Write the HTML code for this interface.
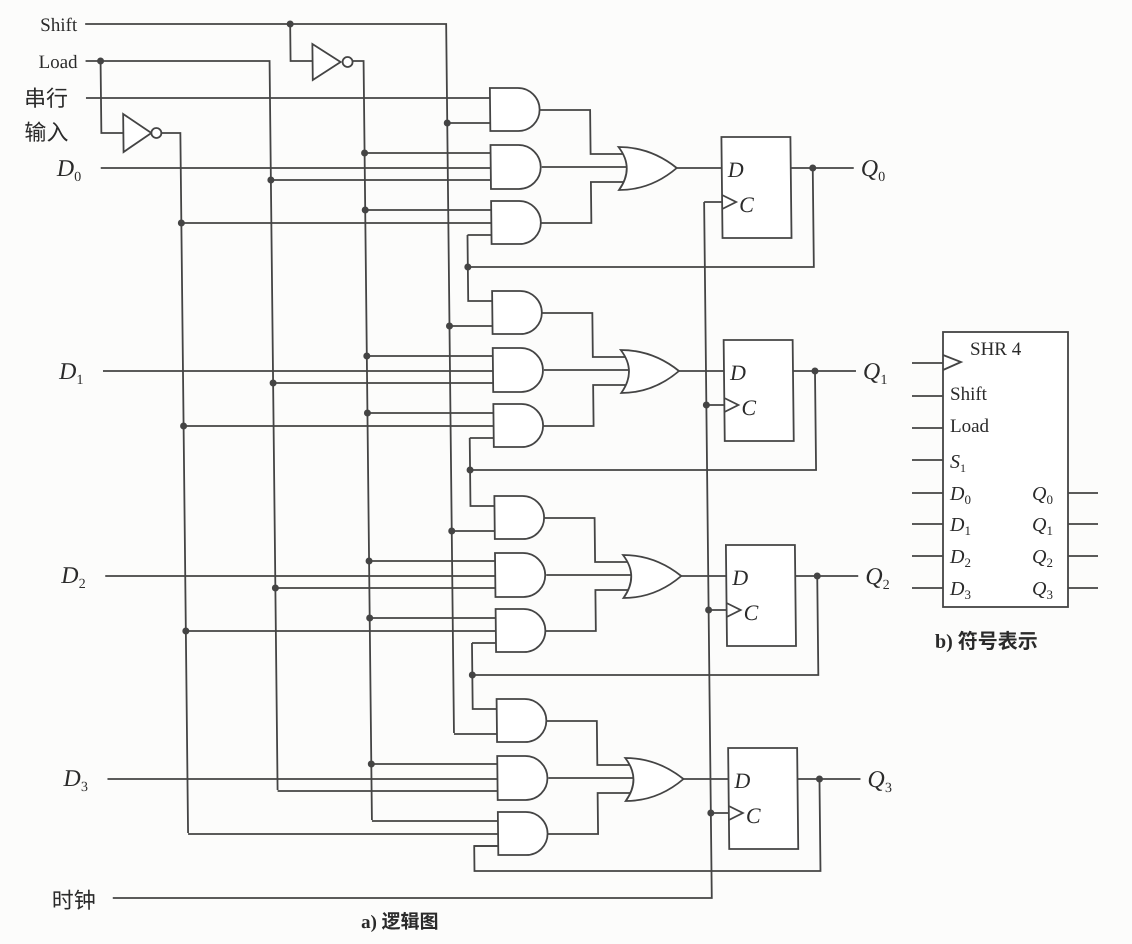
<!DOCTYPE html>
<html><head><meta charset="utf-8"><style>
html,body{margin:0;padding:0;background:#fcfcfb;}
svg{display:block;}
text{font-family:"Liberation Serif","Noto Serif CJK SC",serif;fill:#2a2a2a;}
.cj{font-family:"Liberation Serif","Noto Sans CJK SC",sans-serif;}
.it{font-style:italic;}
</style></head><body>
<svg width="1132" height="944" viewBox="0 0 1132 944" xmlns="http://www.w3.org/2000/svg">
<defs>
<g id="gates" fill="none" stroke="#444" stroke-width="1.8">
  <path d="M490,88 H518 A21.5,21.5 0 0 1 518,131 H490 Z" fill="#fff"/>
  <path d="M490,145 H518 A22,22 0 0 1 518,189 H490 Z" fill="#fff"/>
  <path d="M490,201 H518 A21.5,21.5 0 0 1 518,244 H490 Z" fill="#fff"/>
  <path d="M447,123 H490 M364,153 H490 M270,180 H490 M100,168 H490 M364,210 H490 M180,223 H490 M466,235 H490"/>
  <path d="M540,110 H590 V154 H624 M541,167 H626 M540,223 H590 V182 H624"/>
  <path d="M618,147 Q650,147 676,168 Q650,190 618,190 Q634,168 618,147 Z" fill="#fff"/>
  <path d="M676,168 H721"/>
  <rect x="721" y="137" width="69" height="101" fill="#fff"/>
  <path d="M721,195 L735,202 L721,209"/>
  <path d="M703,202 H721"/>
  <path d="M790,168 H853"/>
  <circle cx="812" cy="168" r="3.5" fill="#444" stroke="none"/>
  <text x="727" y="177" font-size="22" class="it" stroke="none">D</text>
  <text x="738" y="212" font-size="22" class="it" stroke="none">C</text>
</g>
<g id="fb" fill="none" stroke="#444" stroke-width="1.8">
  <path d="M812,168 V267 H466 M466,235 V267"/>
</g>
</defs>
<g transform="matrix(1,0,0.011,1,-1.1,0)">
<g fill="none" stroke="#444" stroke-width="1.8">
  <path d="M86,24 H447 V733"/>
  <path d="M291,24 V61 H313"/>
  <path d="M313,44 L341,62 L313,80 Z" fill="#fff"/>
  <circle cx="348" cy="62" r="5" fill="#fff"/>
  <path d="M353,61 H364 V820"/>
  <path d="M86,61 H270 V790"/>
  <path d="M101,61 V133 H123"/>
  <path d="M123,114 L151,133 L123,152 Z" fill="#fff"/>
  <circle cx="156" cy="133" r="5" fill="#fff"/>
  <path d="M161,133 H180 V833"/>
  <path d="M86,98 H490"/>
  <path d="M104,898 H703 V202"/>
  <path d="M466,267 V301 H490"/>
  <path d="M466,470 V506 H490"/>
  <path d="M466,675 V709 H490"/>
  <path d="M812,779 V871 H466 V846 H490"/>
</g>
<use href="#gates"/>
<use href="#gates" y="203"/>
<use href="#gates" y="408"/>
<use href="#gates" y="611"/>
<use href="#fb"/>
<use href="#fb" y="203"/>
<use href="#fb" y="408"/>
<g fill="#444">
  <circle cx="291" cy="24" r="3.5"/><circle cx="101" cy="61" r="3.5"/>
  <circle cx="447" cy="123" r="3.5"/><circle cx="447" cy="326" r="3.5"/><circle cx="447" cy="531" r="3.5"/>
  <circle cx="364" cy="153" r="3.5"/><circle cx="364" cy="210" r="3.5"/>
  <circle cx="364" cy="356" r="3.5"/><circle cx="364" cy="413" r="3.5"/>
  <circle cx="364" cy="561" r="3.5"/><circle cx="364" cy="618" r="3.5"/>
  <circle cx="364" cy="764" r="3.5"/>
  <circle cx="270" cy="180" r="3.5"/><circle cx="270" cy="383" r="3.5"/><circle cx="270" cy="588" r="3.5"/>
  <circle cx="180" cy="223" r="3.5"/><circle cx="180" cy="426" r="3.5"/><circle cx="180" cy="631" r="3.5"/>
  <circle cx="466" cy="267" r="3.5"/><circle cx="466" cy="470" r="3.5"/><circle cx="466" cy="675" r="3.5"/>
  <circle cx="703" cy="405" r="3.5"/><circle cx="703" cy="610" r="3.5"/><circle cx="703" cy="813" r="3.5"/>
</g>
<text x="78" y="31" font-size="19" text-anchor="end">Shift</text>
<text x="78" y="68" font-size="19" text-anchor="end">Load</text>
<text x="24" y="106" font-size="22" class="cj">串行</text>
<text x="24" y="140" font-size="22" class="cj">输入</text>
<text x="56" y="176" font-size="24" class="it">D<tspan font-size="14" font-style="normal" dy="5">0</tspan></text>
<text x="56" y="379" font-size="24" class="it">D<tspan font-size="14" font-style="normal" dy="5">1</tspan></text>
<text x="56" y="583" font-size="24" class="it">D<tspan font-size="14" font-style="normal" dy="5">2</tspan></text>
<text x="56" y="786" font-size="24" class="it">D<tspan font-size="14" font-style="normal" dy="5">3</tspan></text>
<text x="860" y="176" font-size="24" class="it">Q<tspan font-size="14" font-style="normal" dy="5">0</tspan></text>
<text x="860" y="379" font-size="24" class="it">Q<tspan font-size="14" font-style="normal" dy="5">1</tspan></text>
<text x="860" y="584" font-size="24" class="it">Q<tspan font-size="14" font-style="normal" dy="5">2</tspan></text>
<text x="860" y="787" font-size="24" class="it">Q<tspan font-size="14" font-style="normal" dy="5">3</tspan></text>
<text x="43" y="908" font-size="22" class="cj">时钟</text>
<text x="352" y="928" font-size="19" class="cj" font-weight="bold">a) 逻辑图</text>
</g>
<g fill="none" stroke="#444" stroke-width="1.8">
  <rect x="943" y="332" width="125" height="275" fill="#fff"/>
  <path d="M912,363 H943 M912,396 H943 M912,428 H943 M912,460 H943 M912,493 H943 M912,524 H943 M912,556 H943 M912,588 H943"/>
  <path d="M1068,493 H1098 M1068,524 H1098 M1068,556 H1098 M1068,588 H1098"/>
  <path d="M943,355 L961,362 L943,370"/>
</g>
<text x="970" y="355" font-size="19">SHR 4</text>
<text x="950" y="400" font-size="19">Shift</text>
<text x="950" y="432" font-size="19">Load</text>
<text x="950" y="468" font-size="20" class="it">S<tspan font-size="12" font-style="normal" dy="4">1</tspan></text>
<text x="950" y="500" font-size="20" class="it">D<tspan font-size="13" font-style="normal" dy="4">0</tspan></text>
<text x="950" y="531" font-size="20" class="it">D<tspan font-size="13" font-style="normal" dy="4">1</tspan></text>
<text x="950" y="563" font-size="20" class="it">D<tspan font-size="13" font-style="normal" dy="4">2</tspan></text>
<text x="950" y="595" font-size="20" class="it">D<tspan font-size="13" font-style="normal" dy="4">3</tspan></text>
<text x="1032" y="500" font-size="20" class="it">Q<tspan font-size="13" font-style="normal" dy="4">0</tspan></text>
<text x="1032" y="531" font-size="20" class="it">Q<tspan font-size="13" font-style="normal" dy="4">1</tspan></text>
<text x="1032" y="563" font-size="20" class="it">Q<tspan font-size="13" font-style="normal" dy="4">2</tspan></text>
<text x="1032" y="595" font-size="20" class="it">Q<tspan font-size="13" font-style="normal" dy="4">3</tspan></text>
<text x="935" y="648" font-size="20" class="cj" font-weight="bold">b) 符号表示</text>
</svg>
</body></html>
